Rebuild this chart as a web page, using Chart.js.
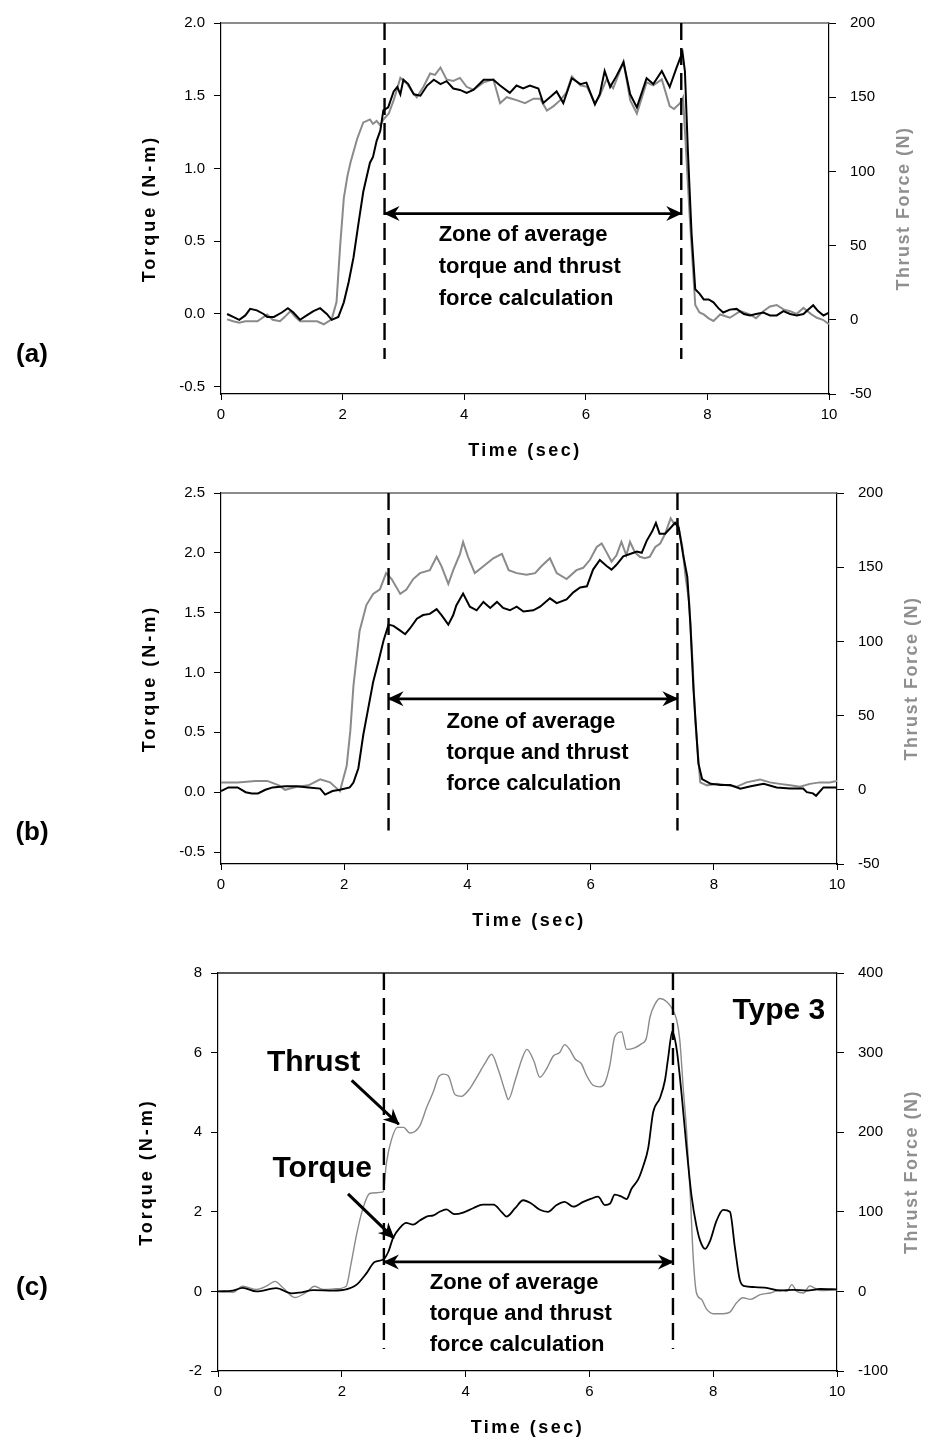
<!DOCTYPE html>
<html><head><meta charset="utf-8">
<script src="https://cdn.jsdelivr.net/npm/chart.js@4.4.1/dist/chart.umd.min.js"></script>
<style>
html,body{margin:0;padding:0;background:#fff;}
body{width:931px;height:1443px;position:relative;overflow:hidden;}
.panel{position:absolute;left:0;width:931px;}
</style></head><body>
<div class="panel" style="top:0;height:470px"><canvas id="ca"></canvas></div>
<div class="panel" style="top:470px;height:480px"><canvas id="cb"></canvas></div>
<div class="panel" style="top:950px;height:493px"><canvas id="cc"></canvas></div>
<script>
// ---------- DATA ----------
const xTicks = [0, 2, 4, 6, 8, 10];

// Panel (a)
const aTorqueTicks = [-0.5, 0, 0.5, 1.0, 1.5, 2.0];
const aThrustTicks = [-50, 0, 50, 100, 150, 200];
const aTorque = [[0.10,0.00],[0.20,-0.02],[0.30,-0.04],[0.40,-0.01],[0.48,0.035],[0.59,0.025],[0.70,0.00],[0.76,-0.02],[0.87,-0.02],[1.00,0.01],[1.10,0.04],[1.19,0.01],[1.30,-0.04],[1.41,-0.01],[1.52,0.02],[1.63,0.04],[1.74,0.00],[1.82,-0.04],[1.93,-0.02],[2.02,0.08],[2.10,0.22],[2.18,0.39],[2.26,0.62],[2.34,0.84],[2.40,0.95],[2.45,1.04],[2.50,1.08],[2.56,1.19],[2.62,1.26],[2.67,1.40],[2.75,1.42],[2.84,1.53],[2.90,1.56],[2.95,1.51],[3.00,1.61],[3.08,1.58],[3.17,1.51],[3.28,1.50],[3.39,1.57],[3.50,1.61],[3.61,1.58],[3.71,1.60],[3.82,1.55],[3.93,1.54],[4.04,1.52],[4.15,1.54],[4.32,1.61],[4.48,1.61],[4.59,1.57],[4.75,1.52],[4.86,1.57],[4.97,1.55],[5.08,1.57],[5.22,1.55],[5.30,1.45],[5.41,1.49],[5.52,1.53],[5.63,1.45],[5.77,1.62],[5.91,1.58],[6.01,1.59],[6.15,1.44],[6.23,1.51],[6.31,1.67],[6.40,1.56],[6.51,1.64],[6.62,1.73],[6.73,1.51],[6.84,1.42],[7.00,1.62],[7.11,1.58],[7.25,1.67],[7.38,1.56],[7.49,1.69],[7.59,1.80],[7.63,1.67],[7.68,1.11],[7.74,0.55],[7.80,0.17],[7.87,0.14],[7.94,0.10],[8.02,0.10],[8.10,0.08],[8.18,0.04],[8.26,0.01],[8.37,0.03],[8.48,0.035],[8.60,0.00],[8.70,-0.01],[8.80,0.00],[8.92,0.01],[9.03,-0.01],[9.14,-0.01],[9.25,0.02],[9.36,0.00],[9.47,-0.01],[9.58,0.00],[9.66,0.03],[9.74,0.06],[9.82,0.02],[9.91,-0.01],[10.0,0.01]];
const aThrust = [[0.10,0.3],[0.20,-1],[0.30,-2],[0.40,-1],[0.50,-1],[0.60,-1],[0.76,3.6],[0.85,0],[0.97,-1],[1.05,2],[1.14,5.8],[1.22,2],[1.30,-1],[1.40,-1],[1.50,-1],[1.58,-1],[1.69,-3],[1.82,0.3],[1.90,12],[1.96,50],[2.02,82],[2.08,97],[2.13,106],[2.24,122],[2.34,133],[2.40,134],[2.45,135],[2.50,132],[2.56,134],[2.62,131],[2.67,135],[2.76,139],[2.84,148],[2.90,156],[2.95,163],[3.06,159],[3.14,154],[3.22,150],[3.33,157],[3.44,166],[3.52,165],[3.61,170],[3.71,162],[3.82,161],[3.93,163],[4.04,157],[4.15,155],[4.32,160],[4.48,162],[4.59,146],[4.70,150],[4.86,148],[5.00,146],[5.14,149],[5.25,149],[5.36,141],[5.47,144],[5.58,148],[5.68,153],[5.77,164],[5.91,158],[6.02,157],[6.15,146],[6.23,151],[6.34,162],[6.45,156],[6.62,174],[6.73,148],[6.84,139],[7.00,160],[7.11,158],[7.25,162],[7.38,144],[7.45,142],[7.55,146],[7.60,150],[7.63,128],[7.71,69],[7.80,10],[7.87,5],[7.94,3.6],[8.02,1],[8.10,-0.8],[8.21,3.6],[8.37,1.4],[8.54,5.8],[8.70,3.6],[8.80,1],[8.92,5.8],[9.03,9],[9.14,10],[9.25,7],[9.36,5.8],[9.47,4],[9.58,8],[9.70,4],[9.80,1.4],[9.90,0],[10.0,-3]];

// Panel (b)
const bTorqueTicks = [-0.5, 0, 0.5, 1.0, 1.5, 2.0, 2.5];
const bThrustTicks = [-50, 0, 50, 100, 150, 200];
const bTorque = [[0.00,0.01],[0.12,0.04],[0.27,0.04],[0.40,0.00],[0.50,-0.01],[0.60,-0.01],[0.72,0.02],[0.84,0.04],[1.04,0.05],[1.23,0.05],[1.42,0.04],[1.61,0.03],[1.69,-0.02],[1.81,0.01],[1.93,0.02],[2.09,0.04],[2.15,0.08],[2.23,0.20],[2.31,0.48],[2.39,0.70],[2.47,0.92],[2.56,1.10],[2.64,1.27],[2.72,1.40],[2.80,1.39],[2.91,1.35],[2.99,1.32],[3.07,1.37],[3.18,1.45],[3.28,1.48],[3.39,1.49],[3.50,1.53],[3.58,1.48],[3.69,1.40],[3.77,1.48],[3.82,1.56],[3.93,1.66],[4.04,1.55],[4.15,1.52],[4.26,1.59],[4.37,1.54],[4.48,1.59],[4.58,1.54],[4.69,1.52],[4.80,1.55],[4.91,1.51],[5.07,1.52],[5.18,1.55],[5.34,1.62],[5.45,1.58],[5.61,1.61],[5.72,1.67],[5.83,1.71],[5.94,1.72],[6.04,1.86],[6.15,1.94],[6.26,1.89],[6.34,1.86],[6.42,1.90],[6.53,1.97],[6.64,1.99],[6.75,2.01],[6.83,2.00],[6.91,2.10],[7.00,2.18],[7.06,2.25],[7.12,2.16],[7.21,2.16],[7.30,2.21],[7.37,2.25],[7.43,2.21],[7.50,1.99],[7.57,1.80],[7.62,1.40],[7.67,0.86],[7.75,0.24],[7.81,0.11],[7.95,0.07],[8.11,0.06],[8.27,0.06],[8.43,0.03],[8.60,0.05],[8.81,0.07],[9.02,0.04],[9.24,0.03],[9.45,0.03],[9.51,0.00],[9.61,-0.01],[9.66,-0.03],[9.78,0.04],[10.0,0.04]];
const bThrust = [[0.00,5],[0.27,5],[0.56,6],[0.75,6],[0.94,3],[1.04,0],[1.23,2],[1.42,3],[1.61,7],[1.77,5],[1.93,-1],[2.04,16],[2.10,40],[2.15,70],[2.25,107],[2.36,124.5],[2.47,132],[2.58,135],[2.68,146],[2.77,142],[2.91,132],[3.01,135],[3.12,142],[3.23,146],[3.39,148],[3.50,157],[3.58,150.6],[3.69,138.7],[3.77,148],[3.88,159],[3.93,167],[4.01,157],[4.12,146],[4.26,150.6],[4.42,156],[4.56,159],[4.67,148],[4.80,146],[4.96,145],[5.10,146],[5.20,150.6],[5.34,156],[5.45,146],[5.61,142],[5.77,148],[5.88,149.6],[5.99,155],[6.10,163.6],[6.18,166],[6.26,160],[6.34,153.8],[6.42,158],[6.50,167],[6.58,158],[6.64,167],[6.72,160],[6.80,157],[6.88,156],[6.96,157],[7.05,163.6],[7.13,166],[7.21,172.5],[7.30,183],[7.36,179],[7.41,181],[7.49,163.6],[7.54,144],[7.60,126.7],[7.65,90],[7.70,46],[7.78,5],[7.89,3],[8.05,4],[8.21,3],[8.37,2],[8.53,5],[8.75,7],[8.91,5],[9.07,4],[9.24,3],[9.40,2],[9.56,4],[9.72,5],[9.88,5],[10.0,6]];

// Panel (c)
const cTorqueTicks = [-2, 0, 2, 4, 6, 8];
const cThrustTicks = [-100, 0, 100, 200, 300, 400];
const cTorque = [[0.00,0.00],[0.24,0.02],[0.40,0.09],[0.62,0.00],[0.94,0.08],[1.19,-0.05],[1.32,-0.03],[1.54,0.03],[1.86,0.02],[2.07,0.05],[2.24,0.17],[2.40,0.46],[2.53,0.74],[2.67,0.80],[2.75,0.99],[2.83,1.35],[2.94,1.60],[3.04,1.72],[3.15,1.68],[3.26,1.78],[3.37,1.88],[3.48,1.91],[3.58,2.00],[3.69,2.06],[3.82,1.94],[3.96,1.98],[4.12,2.09],[4.28,2.18],[4.45,2.18],[4.58,2.00],[4.66,1.88],[4.80,2.09],[4.93,2.29],[5.06,2.21],[5.20,2.05],[5.33,2.00],[5.47,2.17],[5.60,2.25],[5.74,2.13],[5.90,2.25],[6.03,2.33],[6.14,2.38],[6.25,2.17],[6.33,2.20],[6.41,2.43],[6.52,2.38],[6.60,2.32],[6.68,2.58],[6.79,2.82],[6.87,3.15],[6.95,3.60],[7.03,4.50],[7.14,4.86],[7.22,5.30],[7.27,5.84],[7.34,6.53],[7.41,6.08],[7.49,4.95],[7.57,3.60],[7.65,2.40],[7.73,1.64],[7.79,1.27],[7.87,1.07],[7.95,1.27],[8.05,1.76],[8.16,2.05],[8.27,2.00],[8.35,1.11],[8.43,0.29],[8.51,0.13],[8.65,0.11],[8.86,0.09],[9.08,0.02],[9.29,0.04],[9.51,0.02],[9.73,0.06],[10.0,0.05]];
const cThrust = [[0.00,0],[0.24,-1],[0.40,6.5],[0.62,2.4],[0.78,6.5],[0.92,12.6],[1.05,4.5],[1.24,-7.7],[1.43,-1],[1.56,6.5],[1.70,2.4],[1.91,3.3],[2.07,6.5],[2.15,35],[2.24,72],[2.34,104],[2.45,123],[2.56,124],[2.67,125],[2.72,161],[2.80,190],[2.90,206],[3.00,206],[3.10,199],[3.26,208],[3.37,231],[3.48,251],[3.56,269],[3.64,273],[3.72,271],[3.83,247],[3.93,245],[4.07,255],[4.18,269],[4.31,286],[4.42,298],[4.53,278],[4.64,251],[4.69,241],[4.80,265],[4.91,292],[4.99,304],[5.10,290],[5.20,269],[5.31,280],[5.42,296],[5.52,300],[5.60,310],[5.68,304],[5.77,292],[5.87,286],[5.95,272],[6.06,259],[6.17,257],[6.25,262],[6.33,284],[6.41,320],[6.52,326],[6.60,304],[6.73,306],[6.84,311],[6.92,318],[6.98,345],[7.06,361],[7.14,368],[7.25,364],[7.33,356],[7.41,341],[7.46,316],[7.52,251],[7.57,202],[7.63,120],[7.68,39],[7.73,-2],[7.81,-10],[7.89,-22],[8.00,-28],[8.16,-28],[8.27,-26],[8.38,-14],[8.48,-8],[8.60,-10],[8.76,-4],[8.92,-2],[9.08,2],[9.19,0],[9.27,8.5],[9.35,0],[9.46,-2],[9.56,7],[9.64,4],[9.75,1],[9.94,2],[10.0,2]];

// Zone markers (time of start / end of averaging zone)
const aZone = [2.69, 7.57];
const bZone = [2.72, 7.41];
const cZone = [2.68, 7.35];

// ---------- TEXT ----------
const zoneText = ['Zone of average', 'torque and thrust', 'force calculation'];
const FONT = '"Liberation Sans", Arial, Helvetica, sans-serif';
Chart.defaults.font.family = FONT;

function drawHead(ctx, from, to) {
  const ang = Math.atan2(to.y - from.y, to.x - from.x);
  ctx.save();
  ctx.translate(to.x, to.y);
  ctx.rotate(ang);
  ctx.beginPath();
  ctx.moveTo(1, 0);
  ctx.lineTo(-15, -7.5);
  ctx.lineTo(-10, 0);
  ctx.lineTo(-15, 7.5);
  ctx.closePath();
  ctx.fillStyle = '#000';
  ctx.fill();
  ctx.restore();
}

function spacedText(ctx, text, x, y, spacing, align) {
  ctx.save();
  try { ctx.letterSpacing = spacing + 'px'; } catch (e) {}
  ctx.textAlign = align || 'center';
  ctx.fillText(text, x, y);
  ctx.restore();
}

function makePlugin(spec) {
  return {
    id: 'panelDecor' + spec.label,
    beforeDatasetsDraw(chart) {
      const {ctx, chartArea} = chart;
      ctx.save();
      ctx.strokeStyle = spec.topColor;
      ctx.lineWidth = 1.5;
      ctx.beginPath();
      ctx.moveTo(chartArea.left, chartArea.top);
      ctx.lineTo(chartArea.right, chartArea.top);
      ctx.stroke();
      ctx.restore();
    },
    afterDatasetsDraw(chart) {
      const ctx = chart.ctx;
      chart.data.datasets.forEach((ds, i) => {
        if (!ds.arrow) return;
        const pts = chart.getDatasetMeta(i).data;
        const p0 = pts[0], p1 = pts[pts.length - 1];
        if (ds.arrow === 'both') { drawHead(ctx, p1, p0); drawHead(ctx, p0, p1); }
        if (ds.arrow === 'end') drawHead(ctx, p0, p1);
      });
    },
    afterDraw(chart) {
      const {ctx, chartArea} = chart;
      const xs = chart.scales.x, ys = chart.scales.y;
      ctx.save();
      ctx.fillStyle = '#000';
      ctx.textBaseline = 'middle';
      // panel label
      ctx.font = 'bold 26px ' + FONT;
      ctx.textAlign = 'center';
      ctx.fillText('(' + spec.label + ')', 32, spec.labelY);
      // axis titles
      const midY = (chartArea.top + chartArea.bottom) / 2;
      ctx.font = 'bold 18px ' + FONT;
      ctx.save();
      ctx.translate(chartArea.left - 71, midY);
      ctx.rotate(-Math.PI / 2);
      spacedText(ctx, 'Torque (N-m)', 0, 0, 3);
      ctx.restore();
      ctx.save();
      ctx.fillStyle = '#8f8f8f';
      ctx.translate(chartArea.right + 75, midY);
      ctx.rotate(-Math.PI / 2);
      spacedText(ctx, 'Thrust Force (N)', 0, 0, 1.5);
      ctx.restore();
      spacedText(ctx, 'Time (sec)', (chartArea.left + chartArea.right) / 2, chartArea.bottom + 57, 2.5);
      // zone text
      ctx.font = 'bold 22px ' + FONT;
      ctx.textAlign = 'left';
      const tx = xs.getPixelForValue(spec.textAt[0]);
      const ty = ys.getPixelForValue(spec.textAt[1]);
      zoneText.forEach((line, k) => ctx.fillText(line, tx, ty + k * spec.lineStep));
      // extra labels
      (spec.labels || []).forEach(l => {
        ctx.font = 'bold 30px ' + FONT;
        ctx.textAlign = l.align;
        ctx.fillText(l.text, xs.getPixelForValue(l.at[0]), ys.getPixelForValue(l.at[1]));
      });
      ctx.restore();
    }
  };
}

function yAxis(pos, min, max, tickVals, fmt, width) {
  return {
    type: 'linear', position: pos, min: min, max: max,
    afterBuildTicks: s => { s.ticks = tickVals.map(v => ({value: v})); },
    afterFit: s => { s.width = width; },
    ticks: { color: '#000', font: {size: 15}, padding: pos === 'left' ? 9 : 14, autoSkip: false,
             callback: v => fmt(v) },
    grid: { display: true, drawOnChartArea: false, drawTicks: true, tickLength: 7, tickColor: '#000', color: '#000', tickWidth: 1 },
    border: { display: true, color: '#000', width: 1.2 }
  };
}

function xAxis(height) {
  return {
    type: 'linear', position: 'bottom', min: 0, max: 10,
    afterBuildTicks: s => { s.ticks = xTicks.map(v => ({value: v})); },
    afterFit: s => { s.height = height; },
    ticks: { color: '#000', font: {size: 15}, padding: 6, maxRotation: 0, autoSkip: false, callback: v => String(v) },
    grid: { display: true, drawOnChartArea: false, drawTicks: true, tickLength: 6, tickColor: '#000', color: '#000' },
    border: { display: true, color: '#000', width: 1.2 }
  };
}

const pts = arr => arr.map(p => ({x: p[0], y: p[1]}));

function buildPanel(id, cfg) {
  const datasets = [
    { data: pts(cfg.thrust), yAxisID: 'y2', borderColor: '#8a8a8a', borderWidth: cfg.thrustWidth, pointRadius: 0, tension: 0, cubicInterpolationMode: cfg.mode, order: 2 },
    { data: pts(cfg.torque), yAxisID: 'y', borderColor: '#000', borderWidth: cfg.torqueWidth, pointRadius: 0, tension: 0, cubicInterpolationMode: cfg.mode, order: 1 },
    { data: [{x: cfg.zone[0], y: cfg.yMax}, {x: cfg.zone[0], y: cfg.dashBottom}], yAxisID: 'y', borderColor: '#000', borderWidth: 2.4, borderDash: [17, 8], pointRadius: 0, order: 0 },
    { data: [{x: cfg.zone[1], y: cfg.yMax}, {x: cfg.zone[1], y: cfg.dashBottom}], yAxisID: 'y', borderColor: '#000', borderWidth: 2.4, borderDash: [17, 8], pointRadius: 0, order: 0 },
    { data: [{x: cfg.zone[0], y: cfg.arrowY}, {x: cfg.zone[1], y: cfg.arrowY}], yAxisID: 'y', borderColor: '#000', borderWidth: 2.8, pointRadius: 0, arrow: 'both', order: 0 }
  ];
  (cfg.pointers || []).forEach(p => datasets.push({
    data: [{x: p[0][0], y: p[0][1]}, {x: p[1][0], y: p[1][1]}], yAxisID: 'y', borderColor: '#000', borderWidth: 3, pointRadius: 0, arrow: 'end', order: 0
  }));
  return new Chart(document.getElementById(id), {
    type: 'line',
    data: { datasets: datasets },
    options: {
      responsive: true, maintainAspectRatio: false, animation: false, devicePixelRatio: 1,
      layout: { padding: { top: cfg.padTop, left: 0, right: 0, bottom: 0 } },
      plugins: { legend: { display: false }, tooltip: { enabled: false } },
      scales: {
        x: xAxis(cfg.xHeight),
        y: yAxis('left', cfg.yMin, cfg.yMax, cfg.torqueTicks, cfg.fmtL, cfg.leftW),
        y2: yAxis('right', cfg.y2Min, cfg.y2Max, cfg.thrustTicks, v => String(v), cfg.rightW)
      }
    },
    plugins: [makePlugin(cfg.spec)]
  });
}

const one = v => v.toFixed(1);

buildPanel('ca', {
  torque: aTorque, thrust: aThrust, zone: aZone, torqueTicks: aTorqueTicks, thrustTicks: aThrustTicks,
  yMin: -0.55, yMax: 2.0, y2Min: -50, y2Max: 200, fmtL: one, dashBottom: -0.31, arrowY: 0.69,
  padTop: 14, leftW: 221, rightW: 102, xHeight: 76, thrustWidth: 2, torqueWidth: 2, mode: 'default',
  spec: { label: 'a', labelY: 355, topColor: '#666', textAt: [3.58, 0.54], lineStep: 31.7 }
});
buildPanel('cb', {
  torque: bTorque, thrust: bThrust, zone: bZone, torqueTicks: bTorqueTicks, thrustTicks: bThrustTicks,
  yMin: -0.6, yMax: 2.5, y2Min: -50, y2Max: 200, fmtL: one, dashBottom: -0.32, arrowY: 0.78,
  padTop: 11, leftW: 221, rightW: 94, xHeight: 86, thrustWidth: 2, torqueWidth: 2, mode: 'default',
  spec: { label: 'b', labelY: 363, topColor: '#666', textAt: [3.66, 0.59], lineStep: 31 }
});
buildPanel('cc', {
  torque: cTorque, thrust: cThrust, zone: cZone, torqueTicks: cTorqueTicks, thrustTicks: cThrustTicks,
  yMin: -2, yMax: 8, y2Min: -100, y2Max: 400, fmtL: v => String(v), dashBottom: -1.45, arrowY: 0.74,
  padTop: 12, leftW: 218, rightW: 94, xHeight: 72, thrustWidth: 1.4, torqueWidth: 1.8, mode: 'monotone',
  pointers: [[[2.16, 5.3], [2.92, 4.2]], [[2.10, 2.45], [2.84, 1.34]]],
  spec: { label: 'c', labelY: 338, topColor: '#222', textAt: [3.42, 0.21], lineStep: 31,
          labels: [ {text: 'Thrust', at: [0.79, 5.74], align: 'left'},
                    {text: 'Torque', at: [0.88, 3.07], align: 'left'},
                    {text: 'Type 3', at: [9.81, 7.06], align: 'right'} ] }
});
</script>
</body></html>
